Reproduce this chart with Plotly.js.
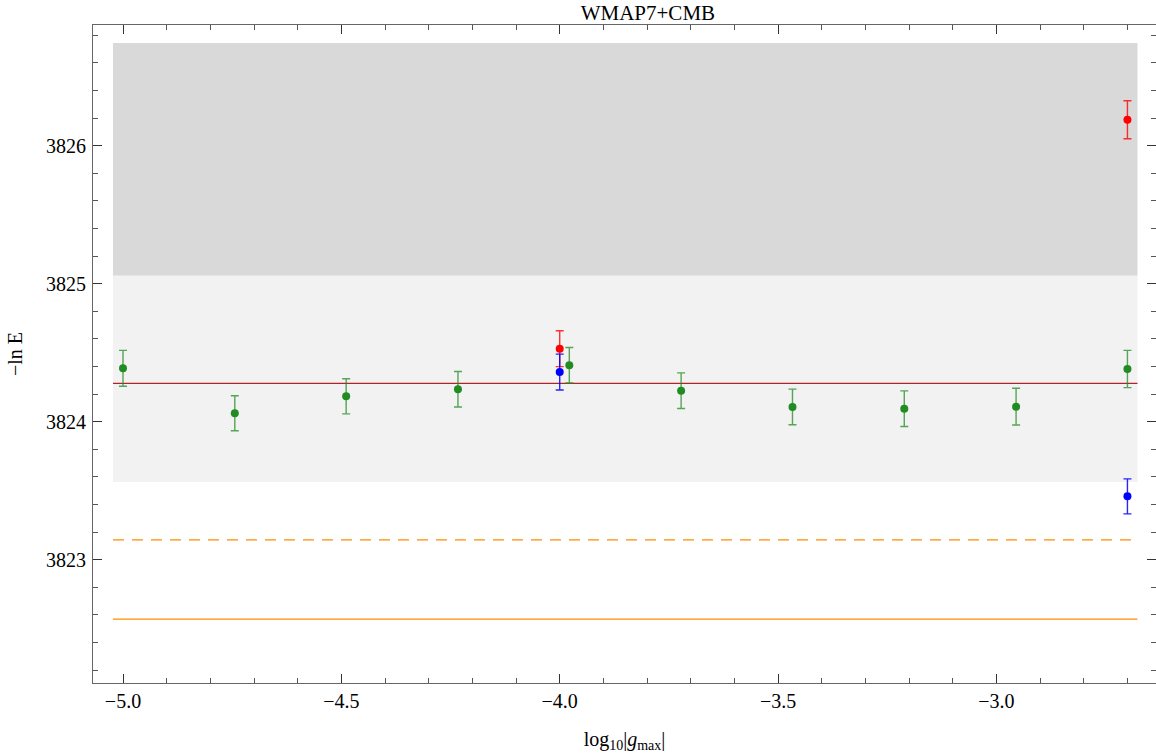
<!DOCTYPE html>
<html>
<head>
<meta charset="utf-8">
<script src="https://cdn.plot.ly/plotly-3.0.1.min.js"></script>
<style>html,body{margin:0;padding:0;background:#fff;}#chart{width:1156px;height:753px;}</style>
</head>
<body>
<div id="chart"></div>
<script>
// ---- data ----
const greenX = [-5.0, -4.744, -4.489, -4.233, -3.978, -3.722, -3.467, -3.211, -2.955, -2.7];
const greenY = [3824.387, 3824.061, 3824.184, 3824.235, 3824.409, 3824.225, 3824.107, 3824.094, 3824.109, 3824.382];
const greenErr = [0.13, 0.127, 0.127, 0.129, 0.129, 0.129, 0.129, 0.129, 0.133, 0.135];

const redX = [-4.0, -2.7];
const redY = [3824.529, 3826.188];
const redErr = [0.13, 0.138];

const blueX = [-4.0, -2.7];
const blueY = [3824.360, 3823.459];
const blueErr = [0.13, 0.127];

const bandX = [-5.023, -2.677];
const darkBand = [3825.058, 3826.744];
const lightBand = [3823.563, 3825.058];

const refLevel = 3824.278;      // dark red line
const dashedLevel = 3823.143;   // orange dashed line
const solidLevel = 3822.570;    // orange solid line

const xTickVals = [-5.0, -4.5, -4.0, -3.5, -3.0];
const yTickVals = [3823, 3824, 3825, 3826];

const titleText = 'WMAP7+CMB';
const xTitle = 'log<sub>10</sub>|<i>g</i><sub>max</sub>|';
const yTitle = '\u2212ln E';

// ---- traces ----
function pts(x, y, err, color, errColor) {
  return {
    type: 'scatter', mode: 'markers', x: x, y: y,
    marker: {color: color, size: 8},
    error_y: {type: 'data', array: err, visible: true, color: errColor, thickness: 1.4, width: 4},
    hoverinfo: 'x+y', showlegend: false
  };
}
function hline(level, color, dash) {
  return {
    type: 'scatter', mode: 'lines', x: bandX, y: [level, level],
    line: {color: color, width: 1.3, dash: dash},
    hoverinfo: 'y', showlegend: false
  };
}

const traces = [
  hline(solidLevel, 'rgb(255,140,0)', 'solid'),
  hline(dashedLevel, 'rgb(255,140,0)', '11px,8px'),
  hline(refLevel, 'rgb(178,34,40)', 'solid'),
  pts(greenX, greenY, greenErr, 'rgb(34,139,34)', 'rgba(34,139,34,0.75)'),
  pts(redX, redY, redErr, 'rgb(255,0,0)', 'rgba(255,0,0,0.8)'),
  pts(blueX, blueY, blueErr, 'rgb(0,0,255)', 'rgba(0,0,255,0.85)')
];

const shapes = [
  {type: 'rect', xref: 'x', yref: 'y', x0: bandX[0], x1: bandX[1], y0: darkBand[0], y1: darkBand[1],
   fillcolor: '#d9d9d9', line: {width: 0}, layer: 'below'},
  {type: 'rect', xref: 'x', yref: 'y', x0: bandX[0], x1: bandX[1], y0: lightBand[0], y1: lightBand[1],
   fillcolor: '#f2f2f2', line: {width: 0}, layer: 'below'}
];

const font = {family: '"Liberation Serif", "DejaVu Serif", serif', size: 20, color: '#000'};

const layout = {
  width: 1156, height: 753,
  margin: {l: 93, r: 0, t: 25, b: 70, pad: 0},
  paper_bgcolor: '#fff', plot_bgcolor: '#fff',
  font: font,
  showlegend: false,
  title: {text: titleText, font: {family: font.family, size: 21, color: '#000'},
          xref: 'paper', x: 0.522, xanchor: 'center', yref: 'container', y: 1 - 13/753, yanchor: 'middle'},
  xaxis: {
    range: [-5.0687, -2.6346], autorange: false,
    tickmode: 'array', tickvals: xTickVals, tickformat: '.1f',
    ticks: 'inside', ticklen: 9, tickwidth: 1, tickcolor: '#333',
    minor: {dtick: 0.1, tick0: -5, ticks: 'inside', ticklen: 5, tickwidth: 1, tickcolor: '#555'},
    showline: true, linecolor: '#666', linewidth: 1, mirror: 'allticks',
    showgrid: false, zeroline: false,
    tickfont: font,
    title: {text: xTitle, font: font, standoff: 22}
  },
  yaxis: {
    range: [3822.1065, 3826.8746], autorange: false,
    tickmode: 'array', tickvals: yTickVals, tickformat: 'd',
    ticks: 'inside', ticklen: 9, tickwidth: 1, tickcolor: '#333',
    minor: {dtick: 0.2, tick0: 3823, ticks: 'inside', ticklen: 5, tickwidth: 1, tickcolor: '#555'},
    showline: true, linecolor: '#666', linewidth: 1, mirror: 'allticks',
    showgrid: false, zeroline: false,
    tickfont: font, ticklabelstandoff: 2,
    title: {text: yTitle, font: font, standoff: 18}
  },
  shapes: shapes
};

Plotly.newPlot('chart', traces, layout, {staticPlot: true, displayModeBar: false});
</script>
</body>
</html>
